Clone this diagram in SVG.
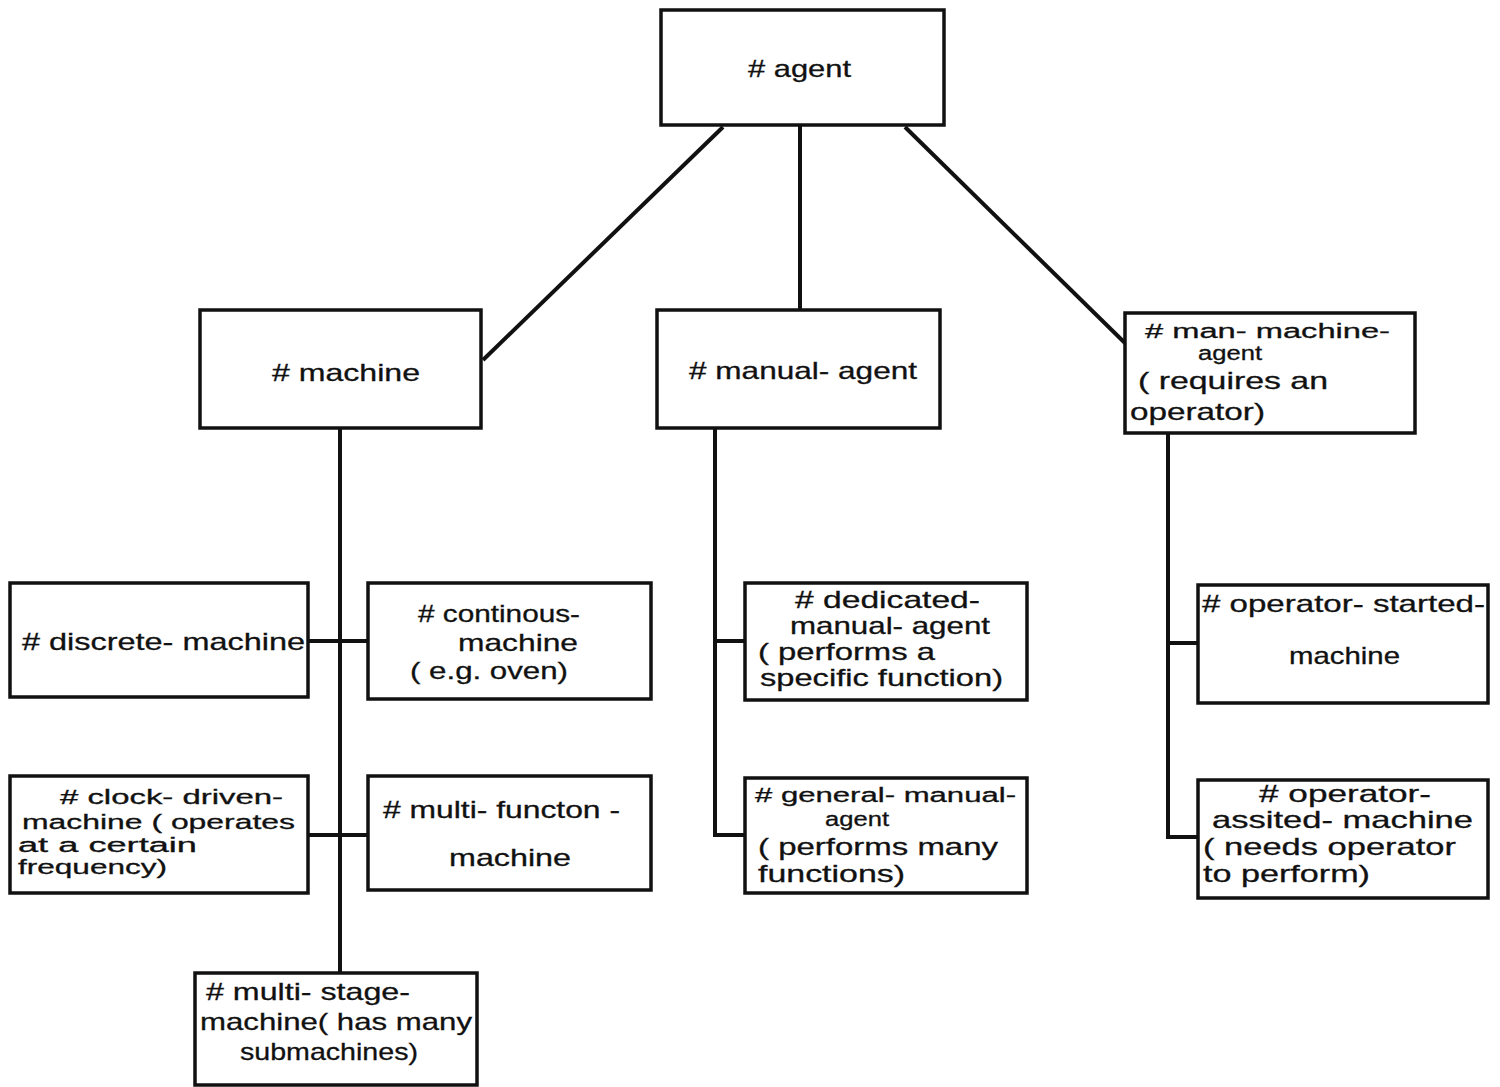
<svg xmlns="http://www.w3.org/2000/svg" width="1500" height="1087" viewBox="0 0 1500 1087">
<style>
.box{fill:#fff;stroke:#111;stroke-width:3.5}
.t{font-family:"Liberation Sans",Arial,sans-serif;font-size:24px;fill:#111;stroke:#111;stroke-width:0.3}
.s{font-size:20px}
.c{stroke:#111;stroke-width:4;fill:none}
</style>
<rect width="1500" height="1087" fill="#fff"/>
<g id="connectors">
<line class="c" x1="723" y1="127" x2="483" y2="360"/>
<line class="c" x1="800" y1="125" x2="800" y2="310"/>
<line class="c" x1="905" y1="127" x2="1127" y2="345"/>
<line class="c" x1="340" y1="428" x2="340" y2="973"/>
<line class="c" x1="308" y1="641" x2="368" y2="641"/>
<line class="c" x1="308" y1="835" x2="368" y2="835"/>
<polyline class="c" points="715,428 715,835 745,835"/>
<line class="c" x1="715" y1="641" x2="745" y2="641"/>
<polyline class="c" points="1168,433 1168,837 1198,837"/>
<line class="c" x1="1168" y1="643" x2="1198" y2="643"/>
</g>
<g id="agent">
<rect class="box" x="661" y="10" width="283" height="115"/>
<text class="t" x="748" y="77" textLength="103" lengthAdjust="spacingAndGlyphs"># agent</text>
</g>
<g id="machine">
<rect class="box" x="200" y="310" width="281" height="118"/>
<text class="t" x="272" y="381" textLength="148" lengthAdjust="spacingAndGlyphs"># machine</text>
</g>
<g id="manual-agent">
<rect class="box" x="657" y="310" width="283" height="118"/>
<text class="t" x="689" y="379" textLength="228" lengthAdjust="spacingAndGlyphs"># manual- agent</text>
</g>
<g id="man-machine-agent">
<rect class="box" x="1125" y="313" width="290" height="120"/>
<text class="t s" x="1145" y="338" textLength="245" lengthAdjust="spacingAndGlyphs"># man- machine-</text>
<text class="t s" x="1198" y="360" textLength="64" lengthAdjust="spacingAndGlyphs">agent</text>
<text class="t" x="1138" y="389" textLength="190" lengthAdjust="spacingAndGlyphs">( requires an</text>
<text class="t" x="1130" y="420" textLength="135" lengthAdjust="spacingAndGlyphs">operator)</text>
</g>
<g id="discrete-machine">
<rect class="box" x="10" y="583" width="298" height="114"/>
<text class="t" x="22" y="650" textLength="283" lengthAdjust="spacingAndGlyphs"># discrete- machine</text>
</g>
<g id="continous-machine">
<rect class="box" x="368" y="583" width="283" height="116"/>
<text class="t" x="418" y="622" textLength="162" lengthAdjust="spacingAndGlyphs"># continous-</text>
<text class="t" x="458" y="651" textLength="120" lengthAdjust="spacingAndGlyphs">machine</text>
<text class="t" x="410" y="679" textLength="158" lengthAdjust="spacingAndGlyphs">( e.g. oven)</text>
</g>
<g id="clock-driven-machine">
<rect class="box" x="10" y="776" width="298" height="117"/>
<text class="t s" x="60" y="804" textLength="223" lengthAdjust="spacingAndGlyphs"># clock- driven-</text>
<text class="t s" x="22" y="829" textLength="273" lengthAdjust="spacingAndGlyphs">machine ( operates</text>
<text class="t s" x="18" y="852" textLength="179" lengthAdjust="spacingAndGlyphs">at a certain</text>
<text class="t s" x="18" y="874" textLength="149" lengthAdjust="spacingAndGlyphs">frequency)</text>
</g>
<g id="multi-function-machine">
<rect class="box" x="368" y="776" width="283" height="114"/>
<text class="t" x="383" y="818" textLength="237" lengthAdjust="spacingAndGlyphs"># multi- functon -</text>
<text class="t" x="449" y="866" textLength="122" lengthAdjust="spacingAndGlyphs">machine</text>
</g>
<g id="multi-stage-machine">
<rect class="box" x="195" y="973" width="282" height="112"/>
<text class="t" x="206" y="1000" textLength="204" lengthAdjust="spacingAndGlyphs"># multi- stage-</text>
<text class="t" x="200" y="1030" textLength="272" lengthAdjust="spacingAndGlyphs">machine( has many</text>
<text class="t" x="240" y="1060" textLength="178" lengthAdjust="spacingAndGlyphs">submachines)</text>
</g>
<g id="dedicated-manual-agent">
<rect class="box" x="745" y="583" width="282" height="117"/>
<text class="t" x="795" y="608" textLength="185" lengthAdjust="spacingAndGlyphs"># dedicated-</text>
<text class="t" x="790" y="634" textLength="200" lengthAdjust="spacingAndGlyphs">manual- agent</text>
<text class="t" x="758" y="660" textLength="177" lengthAdjust="spacingAndGlyphs">( performs a</text>
<text class="t" x="760" y="686" textLength="243" lengthAdjust="spacingAndGlyphs">specific function)</text>
</g>
<g id="general-manual-agent">
<rect class="box" x="745" y="778" width="282" height="115"/>
<text class="t s" x="755" y="802" textLength="261" lengthAdjust="spacingAndGlyphs"># general- manual-</text>
<text class="t s" x="825" y="826" textLength="64" lengthAdjust="spacingAndGlyphs">agent</text>
<text class="t" x="758" y="855" textLength="240" lengthAdjust="spacingAndGlyphs">( performs many</text>
<text class="t" x="758" y="882" textLength="147" lengthAdjust="spacingAndGlyphs">functions)</text>
</g>
<g id="operator-started-machine">
<rect class="box" x="1198" y="585" width="290" height="118"/>
<text class="t" x="1202" y="612" textLength="283" lengthAdjust="spacingAndGlyphs"># operator- started-</text>
<text class="t" x="1289" y="664" textLength="111" lengthAdjust="spacingAndGlyphs">machine</text>
</g>
<g id="operator-assisted-machine">
<rect class="box" x="1198" y="780" width="290" height="118"/>
<text class="t" x="1259" y="802" textLength="172" lengthAdjust="spacingAndGlyphs"># operator-</text>
<text class="t" x="1212" y="828" textLength="261" lengthAdjust="spacingAndGlyphs">assited- machine</text>
<text class="t" x="1203" y="855" textLength="253" lengthAdjust="spacingAndGlyphs">( needs operator</text>
<text class="t" x="1203" y="882" textLength="167" lengthAdjust="spacingAndGlyphs">to perform)</text>
</g>
</svg>
